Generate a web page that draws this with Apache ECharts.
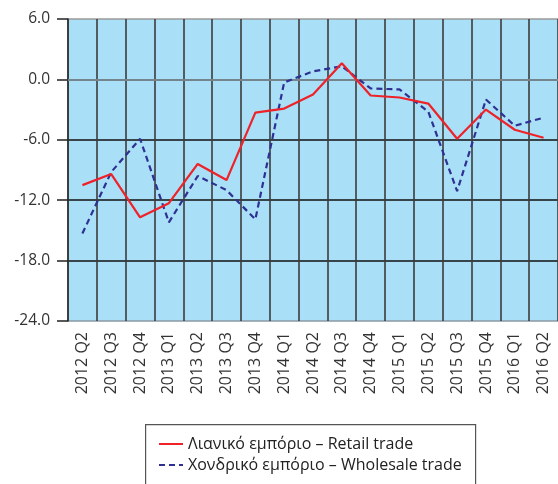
<!DOCTYPE html>
<html>
<head>
<meta charset="utf-8">
<script src="https://cdn.jsdelivr.net/npm/echarts@6/dist/echarts.min.js"></script>
<style>
  html, body { margin: 0; padding: 0; background: #ffffff; }
  #chart { width: 558px; height: 484px; }
</style>
</head>
<body>
<div id="chart"></div>
<script>
// Quarterly categories
const quarters = [
  '2012 Q2', '2012 Q3', '2012 Q4', '2013 Q1', '2013 Q2', '2013 Q3', '2013 Q4',
  '2014 Q1', '2014 Q2', '2014 Q3', '2014 Q4', '2015 Q1', '2015 Q2', '2015 Q3',
  '2015 Q4', '2016 Q1', '2016 Q2'
];

// Retail trade balance
const retail = [-10.5, -9.4, -13.7, -12.3, -8.4, -10.0, -3.3, -2.9, -1.5, 1.6, -1.6,
  -1.8, -2.4, -5.9, -3.0, -5.0, -5.8];

// Wholesale trade balance
const wholesale = [-15.3, -9.2, -5.9, -14.2, -9.6, -11.0, -13.9, -0.3, 0.8, 1.3, -0.9,
  -1.0, -3.2, -11.1, -2.0, -4.6, -3.8];

// Value axis ticks
const yTicks = { min: -24, max: 6, step: 6 };

const seriesNames = ['Λιανικό εμπόριο – Retail trade', 'Χονδρικό εμπόριο – Wholesale trade'];

const FONT = 'Open Sans';
const chart = echarts.init(document.getElementById('chart'), null, { renderer: 'canvas' });

chart.setOption({
  backgroundColor: '#ffffff',
  animation: false,
  textStyle: { fontFamily: FONT },
  grid: {
    left: 68, right: -2, top: 19, bottom: 163,
    show: true, backgroundColor: '#aadff8', borderWidth: 0
  },
  graphic: [{
    type: 'rect',
    left: 145, top: 424,
    shape: { width: 330, height: 80 },
    style: { fill: '#ffffff', stroke: '#555555', lineWidth: 1.2 },
    z: 0
  }],
  legend: {
    orient: 'vertical',
    left: 153, top: 431,
    itemWidth: 24, itemHeight: 14, itemGap: 5,
    itemStyle: { opacity: 0 },
    textStyle: { fontFamily: FONT, fontSize: 16, color: '#222' },
    data: seriesNames,
    z: 5
  },
  xAxis: {
    type: 'category',
    data: quarters,
    boundaryGap: true,
    axisLine: { show: true, lineStyle: { color: '#8a9aa4', width: 1.5 } },
    axisTick: { show: false },
    splitLine: { show: true, lineStyle: { color: '#3c3c3c', width: 1.6 } },
    axisLabel: {
      rotate: 90, margin: 11, interval: 0,
      fontFamily: FONT, fontSize: 16, color: '#333'
    }
  },
  yAxis: {
    type: 'value',
    min: yTicks.min, max: yTicks.max, interval: yTicks.step,
    axisLine: { show: true, lineStyle: { color: '#333', width: 1.5 } },
    axisTick: { show: true, inside: false, length: 11, lineStyle: { color: '#222', width: 1.5 } },
    splitLine: {
      show: true,
      lineStyle: { color: ['#8a9aa4', '#111', '#111', '#111', '#111', '#9a9a9a'], width: 1.6 }
    },
    axisLabel: {
      margin: 18, fontFamily: FONT, fontSize: 15.5, color: '#333',
      formatter: v => v.toFixed(1)
    }
  },
  series: [
    {
      name: seriesNames[0],
      type: 'line',
      data: retail,
      symbol: 'none',
      lineStyle: { color: '#ee2228', width: 2.2 },
      itemStyle: { color: '#ee2228' },
      z: 3
    },
    {
      name: seriesNames[1],
      type: 'line',
      data: wholesale,
      symbol: 'none',
      lineStyle: { color: '#2e3192', width: 2.2, type: [6, 4] },
      itemStyle: { color: '#2e3192' },
      z: 2
    }
  ]
});
</script>
</body>
</html>
